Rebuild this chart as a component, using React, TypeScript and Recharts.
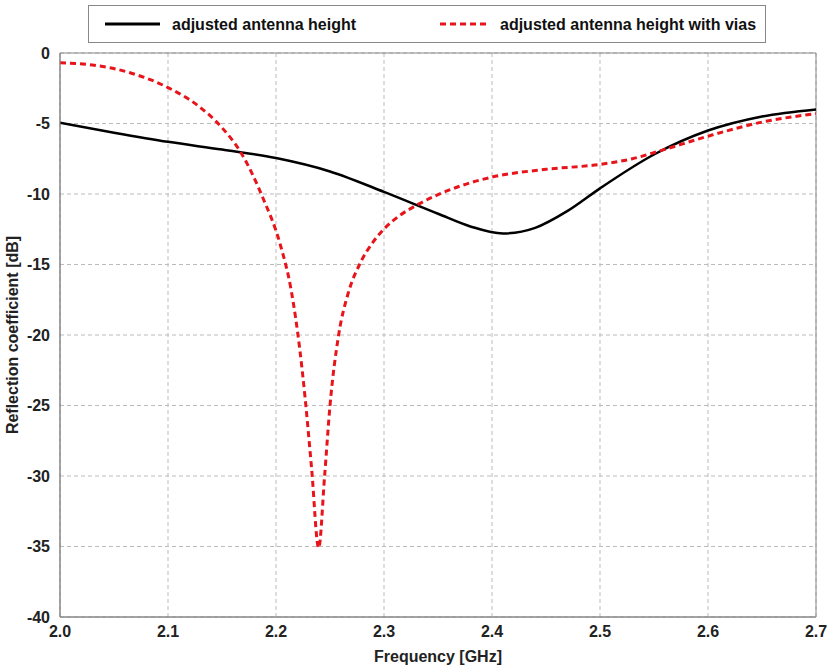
import React from 'react';
import { LineChart, Line, XAxis, YAxis, CartesianGrid, ReferenceArea } from 'recharts';

const plainFreq = [2.0, 2.05, 2.1, 2.15, 2.2, 2.25, 2.3, 2.35, 2.38, 2.41, 2.44, 2.47, 2.5, 2.55, 2.6, 2.65, 2.7];
const plainDb = [-4.95, -5.65, -6.3, -6.85, -7.45, -8.4, -9.85, -11.4, -12.3, -12.8, -12.4, -11.2, -9.6, -7.2, -5.5, -4.5, -4.0];

const viasFreq = [
  2.0, 2.03, 2.067, 2.1, 2.128, 2.15, 2.167, 2.188, 2.204, 2.214, 2.222, 2.227, 2.233, 2.2395,
  2.245, 2.25, 2.258, 2.267, 2.278, 2.29, 2.301, 2.315, 2.33, 2.35, 2.37, 2.4, 2.45, 2.5, 2.53,
  2.555, 2.6, 2.65, 2.7,
];
const viasDb = [
  -0.7, -0.85, -1.45, -2.45, -3.75, -5.3, -7.0, -10.3, -13.6, -16.8, -21.0, -24.5, -29.5, -35.1,
  -30.0, -25.0, -20.0, -17.0, -14.9, -13.4, -12.4, -11.5, -10.8, -10.05, -9.45, -8.8, -8.25, -7.9, -7.5,
  -6.95, -5.9, -4.9, -4.3,
];

const xTicks = [2.0, 2.1, 2.2, 2.3, 2.4, 2.5, 2.6, 2.7];
const yTicks = [0, -5, -10, -15, -20, -25, -30, -35, -40];

const plainData = plainFreq.map((f, i) => ({ f, db: plainDb[i] }));
const viasData = viasFreq.map((f, i) => ({ f, db: viasDb[i] }));

const font = '"Liberation Sans Narrow", "Liberation Sans", Arial, sans-serif';
const txt = { fontFamily: font, fontWeight: 'bold', fontSize: 16, fill: '#222' };

// legend drawn as an overlay so it does not shift the plot
const LegendBox = () => (
  <svg width={678} height={38} style={{ position: 'absolute', left: 88, top: 5 }}>
    <rect x={0.5} y={0.5} width={677} height={37} fill="#fff" stroke="#888" />
    <line x1={17} x2={72} y1={19} y2={19} stroke="#000" strokeWidth={3} />
    <text x={84} y={25} {...txt} fill="#111">adjusted antenna height</text>
    <line x1={352} x2={402} y1={19} y2={19} stroke="#e8141b" strokeWidth={3} strokeDasharray="6 4" />
    <text x={412} y={25} {...txt} fill="#111">adjusted antenna height with vias</text>
  </svg>
);

export default function App() {
  return (
    <div style={{ position: 'absolute', left: 0, top: 0, width: 828, height: 666, background: '#fff' }}>
      <LineChart
        width={828}
        height={666}
        margin={{ top: 53, right: 12, bottom: 0, left: 8 }}
        style={{ overflow: 'visible' }}
      >
        <CartesianGrid stroke="#bbb" strokeDasharray="4 3" />
        <XAxis
          type="number"
          dataKey="f"
          domain={[2.0, 2.7]}
          ticks={xTicks}
          tickFormatter={(v: number) => v.toFixed(1)}
          allowDataOverflow
          axisLine={{ stroke: '#888' }}
          tickLine={false}
          height={49}
          tick={txt}
          tickMargin={3}
          label={{ value: 'Frequency [GHz]', position: 'insideBottom', offset: 4, style: txt }}
        />
        <YAxis
          type="number"
          domain={[-40, 0]}
          ticks={yTicks}
          allowDataOverflow
          axisLine={{ stroke: '#888' }}
          tickLine={false}
          width={52}
          tickMargin={4}
          tick={txt}
          label={{
            value: 'Reflection coefficient [dB]',
            angle: -90,
            position: 'insideLeft',
            offset: 4,
            style: { ...txt, textAnchor: 'middle' },
          }}
        />
        <ReferenceArea x1={2.0} x2={2.7} y1={-40} y2={0} fill="none" stroke="#888" strokeWidth={1} />
        <Line
          data={plainData}
          dataKey="db"
          type="monotone"
          stroke="#000"
          strokeWidth={2.5}
          dot={false}
          isAnimationActive={false}
          name="adjusted antenna height"
        />
        <Line
          data={viasData}
          dataKey="db"
          type="monotone"
          stroke="#e8141b"
          strokeWidth={3}
          strokeDasharray="6 4"
          dot={false}
          isAnimationActive={false}
          name="adjusted antenna height with vias"
        />
      </LineChart>
      <LegendBox />
    </div>
  );
}
